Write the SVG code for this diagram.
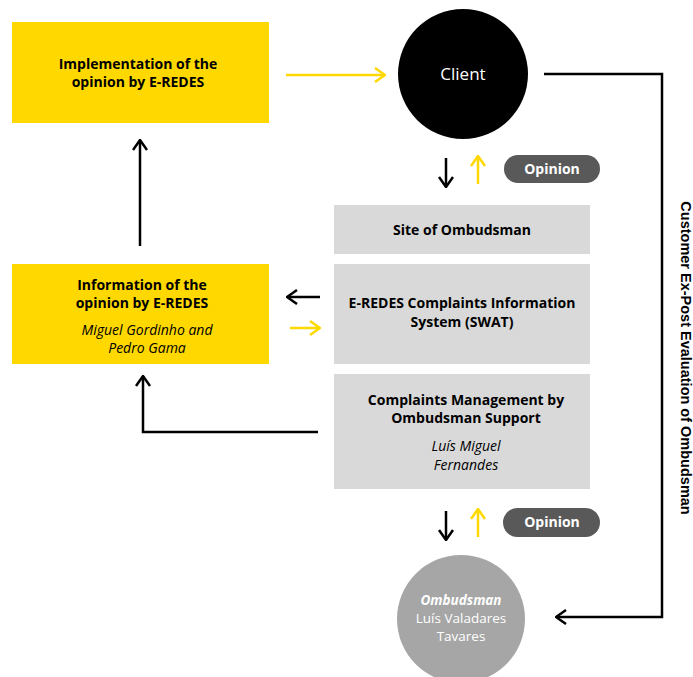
<svg xmlns="http://www.w3.org/2000/svg" width="693" height="677" viewBox="0 0 693 677">
<defs>
<style>
.yb{fill:#ffd800}
.gb{fill:#d9d9d9}
.t{font-family:"Open Sans","Liberation Sans",sans-serif;font-size:14px;fill:#000;text-anchor:middle}
.b{font-weight:bold}
.i{font-style:italic;font-weight:normal}
.wk{fill:none;stroke:#000;stroke-width:2.5}
.wy{fill:none;stroke:#ffd800;stroke-width:2.5}
.pill{fill:#595959}
.pt{font-family:"Open Sans","Liberation Sans",sans-serif;font-size:14px;font-weight:bold;fill:#fff;text-anchor:middle}
.ct{font-family:"Open Sans","Liberation Sans",sans-serif;font-size:13.5px;fill:#fff;text-anchor:middle}
</style>
<marker id="ak" viewBox="0 0 12 16" refX="11" refY="8" markerWidth="12" markerHeight="16" markerUnits="userSpaceOnUse" orient="auto">
<path d="M1,1 L11,8 L1,15" fill="none" stroke="#000" stroke-width="2.5"/>
</marker>
<marker id="ay" viewBox="0 0 12 16" refX="11" refY="8" markerWidth="12" markerHeight="16" markerUnits="userSpaceOnUse" orient="auto">
<path d="M1,1 L11,8 L1,15" fill="none" stroke="#ffd800" stroke-width="2.5"/>
</marker>
</defs>

<g id="implementation">
<rect class="yb" x="12" y="22" width="257" height="101"/>
<text class="t b" x="138" y="69">Implementation of the</text>
<text class="t b" x="138" y="87">opinion by E-REDES</text>
</g>

<g id="client">
<circle cx="463" cy="74" r="65" fill="#000"/>
<text x="463" y="80" font-family="'Open Sans','Liberation Sans',sans-serif" font-size="17" fill="#fff" text-anchor="middle">Client</text>
</g>

<g id="opinion-top">
<rect class="pill" x="504" y="155" width="96" height="28" rx="14"/>
<text class="pt" x="552" y="174">Opinion</text>
</g>

<g id="site">
<rect class="gb" x="334" y="205" width="256" height="49"/>
<text class="t b" x="462" y="235">Site of Ombudsman</text>
</g>

<g id="swat">
<rect class="gb" x="334" y="264" width="256" height="100"/>
<text class="t b" x="462" y="308">E-REDES Complaints Information</text>
<text class="t b" x="462" y="327">System (SWAT)</text>
</g>

<g id="information">
<rect class="yb" x="12" y="264" width="257" height="100"/>
<text class="t b" x="142" y="290">Information of the</text>
<text class="t b" x="142" y="308">opinion by E-REDES</text>
<text class="t i" x="147" y="335">Miguel Gordinho and</text>
<text class="t i" x="147" y="353">Pedro Gama</text>
</g>

<g id="management">
<rect class="gb" x="334" y="374" width="256" height="115"/>
<text class="t b" x="466" y="405">Complaints Management by</text>
<text class="t b" x="466" y="423">Ombudsman Support</text>
<text class="t i" x="466" y="451">Luís Miguel</text>
<text class="t i" x="466" y="470">Fernandes</text>
</g>

<g id="opinion-bottom">
<rect class="pill" x="503" y="508" width="97" height="29" rx="14.5"/>
<text class="pt" x="552" y="527">Opinion</text>
</g>

<g id="ombudsman">
<circle cx="461" cy="619" r="64" fill="#a6a6a6"/>
<text class="ct" x="461" y="605" font-weight="bold" font-style="italic">Ombudsman</text>
<text class="ct" x="461" y="623">Luís Valadares</text>
<text class="ct" x="461" y="641">Tavares</text>
</g>

<g id="evaluation-label">
<text transform="translate(681,358) rotate(90)" font-family="'Liberation Sans',Arial,sans-serif" font-size="14.5" font-weight="bold" fill="#000" text-anchor="middle">Customer Ex-Post Evaluation of Ombudsman</text>
</g>

<g id="connectors">
<line class="wy" x1="286" y1="75" x2="385" y2="75" marker-end="url(#ay)"/>
<line class="wk" x1="446" y1="158" x2="446" y2="187" marker-end="url(#ak)"/>
<line class="wy" x1="478" y1="184" x2="478" y2="156" marker-end="url(#ay)"/>
<line class="wk" x1="140" y1="246" x2="140" y2="140" marker-end="url(#ak)"/>
<line class="wk" x1="320" y1="297" x2="287" y2="297" marker-end="url(#ak)"/>
<line class="wy" x1="290" y1="328" x2="320" y2="328" marker-end="url(#ay)"/>
<polyline class="wk" points="318,432 143,432 143,376" marker-end="url(#ak)"/>
<line class="wk" x1="446" y1="511" x2="446" y2="540" marker-end="url(#ak)"/>
<line class="wy" x1="478" y1="537" x2="478" y2="509" marker-end="url(#ay)"/>
<polyline class="wk" points="544,74 662,74 662,617 556,617" marker-end="url(#ak)"/>
</g>
</svg>
